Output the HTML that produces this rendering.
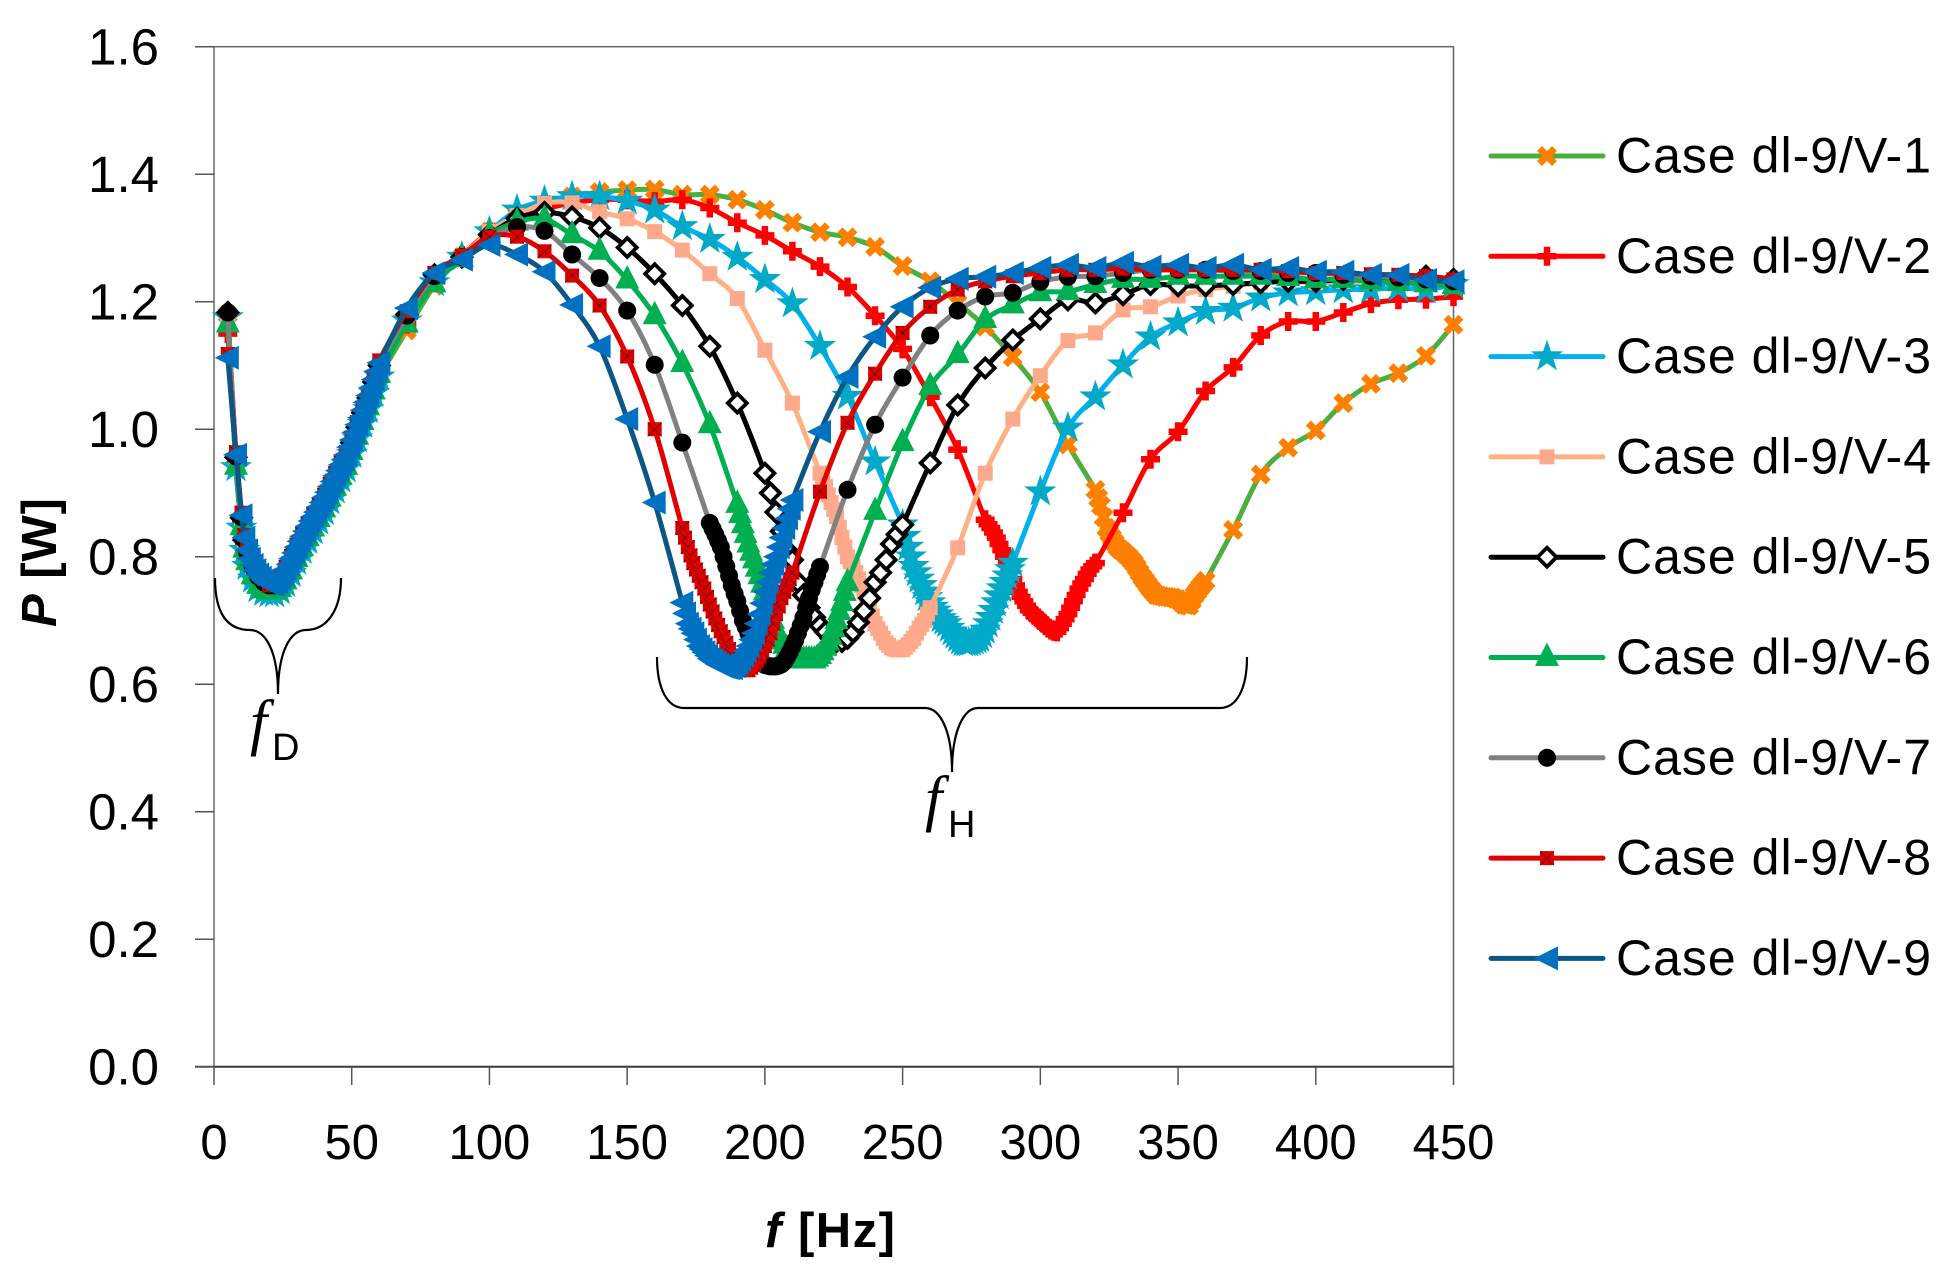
<!DOCTYPE html>
<html lang="en">
<head>
<meta charset="utf-8">
<title>Power versus frequency, Case dl-9</title>
<style>
html,body{margin:0;padding:0;background:#fff;}
svg{display:block;}
text{font-family:"Liberation Sans",sans-serif;fill:#000;}
</style>
</head>
<body>
<svg id="chart" xmlns="http://www.w3.org/2000/svg" width="1954" height="1274" viewBox="0 0 1954 1274">
  <rect x="0" y="0" width="1954" height="1274" fill="#fff"/>
  <g id="axes"></g>
  <g id="series"></g>
  <path d="M215,578 C215,610 225,630 250,630 C265,630 278,650 278,694 C278,650 291,630 306,630 C327,630 341,610 341,578" fill="none" stroke="#000" stroke-width="2.2"/>
  <path d="M657,657 C657,690 668,708 684,708 L925,708 C940,708 952,730 952,772 C952,730 964,708 978,708 L1220,708 C1236,708 1247,690 1247,657" fill="none" stroke="#000" stroke-width="2.2"/>
  <text x="250" y="743" font-size="62" style="font-family:'Liberation Serif',serif;font-style:italic">f<tspan x="272" y="760" font-size="38" style="font-family:'Liberation Sans',sans-serif;font-style:normal">D</tspan></text>
  <text x="925" y="819" font-size="62" style="font-family:'Liberation Serif',serif;font-style:italic">f<tspan x="948" y="837" font-size="38" style="font-family:'Liberation Sans',sans-serif;font-style:normal">H</tspan></text>
  <text x="765" y="1247" font-size="49" font-weight="bold" textLength="130"><tspan font-style="italic">f</tspan> [Hz]</text>
  <text transform="translate(56,627) rotate(-90)" x="0" y="0" font-size="49" font-weight="bold" textLength="129"><tspan font-style="italic">P</tspan> [W]</text>
  <g id="legend"></g>
</svg>
<script>
const xTickLabels = [0,50,100,150,200,250,300,350,400,450];
const yTickLabels = ['0.0','0.2','0.4','0.6','0.8','1.0','1.2','1.4','1.6'];
const seriesNames = ['Case dl-9/V-1','Case dl-9/V-2','Case dl-9/V-3','Case dl-9/V-4','Case dl-9/V-5','Case dl-9/V-6','Case dl-9/V-7','Case dl-9/V-8','Case dl-9/V-9'];

const freqV1 = [5,8,10,11,12,14,16,18,20,22,24,26,28,30,32,34,36,38,40,42,44,46,48,50,52,54,56,58,60,70,80,90,100,110,120,130,140,150,160,170,180,190,200,210,220,230,240,250,260,270,280,290,300,310,320,321,322,323,324,325,326,327,328,329,330,331,332,333,334,335,336,337,338,339,340,341,342,343,344,345,346,347,348,349,350,351,352,353,354,355,356,357,358,359,360,370,380,390,400,410,420,430,440,450];
const powerV1 = [1.18,.94,.85,.815,.79,.768,.753,.746,.742,.742,.748,.76,.776,.795,.812,.828,.843,.858,.873,.89,.907,.924,.94,.963,.987,1.01,1.033,1.058,1.082,1.155,1.225,1.27,1.31,1.335,1.352,1.365,1.372,1.375,1.376,1.368,1.368,1.36,1.344,1.324,1.309,1.301,1.286,1.256,1.232,1.198,1.161,1.113,1.058,.976,.905,.892,.88,.862,.845,.837,.83,.822,.815,.811,.808,.804,.8,.795,.79,.783,.775,.768,.762,.756,.75,.745,.74,.739,.738,.737,.737,.736,.736,.734,.733,.729,.725,.724,.723,.731,.74,.746,.752,.757,.762,.842,.929,.971,.998,1.041,1.071,1.088,1.115,1.164];

const freqV2 = [5,8,10,11,12,14,16,18,20,22,24,26,28,30,32,34,36,38,40,42,44,46,48,50,52,54,56,58,60,70,80,90,100,110,120,130,140,150,160,170,180,190,200,210,220,230,240,250,260,270,280,281,282,283,284,285,286,287,288,289,290,291,292,293,294,295,296,297,298,299,300,301,302,303,304,305,306,307,308,309,310,311,312,313,314,315,316,317,318,319,320,330,340,350,360,370,380,390,400,410,420,430,440,450];
const powerV2 = [1.15,.945,.855,.82,.798,.775,.76,.752,.748,.748,.755,.768,.784,.803,.82,.836,.851,.866,.881,.898,.915,.932,.948,.971,.995,1.018,1.041,1.066,1.092,1.165,1.232,1.272,1.31,1.33,1.345,1.355,1.36,1.36,1.357,1.36,1.347,1.324,1.304,1.279,1.255,1.223,1.178,1.126,1.051,.968,.858,.851,.845,.838,.83,.82,.81,.8,.79,.778,.765,.755,.745,.737,.73,.723,.716,.712,.708,.704,.7,.696,.692,.688,.685,.683,.682,.688,.695,.702,.71,.72,.73,.74,.75,.758,.765,.773,.78,.785,.79,.869,.953,.996,1.06,1.097,1.147,1.169,1.169,1.183,1.197,1.203,1.204,1.208];

const freqV3 = [5,8,10,11,12,14,16,18,20,22,24,26,28,30,32,34,36,38,40,42,44,46,48,50,52,54,56,58,60,70,80,90,100,110,120,130,140,150,160,170,180,190,200,210,220,230,240,250,251,252,253,254,255,256,257,258,259,260,261,262,263,264,265,266,267,268,269,270,271,272,273,274,275,276,277,278,279,280,281,282,283,284,285,286,287,288,289,290,300,310,320,330,340,350,360,370,380,390,400,410,420,430,440,450];
const powerV3 = [1.175,.94,.845,.81,.785,.765,.75,.744,.742,.742,.747,.758,.774,.793,.81,.826,.841,.856,.871,.888,.905,.922,.938,.961,.985,1.008,1.031,1.056,1.082,1.17,1.23,1.27,1.31,1.344,1.358,1.365,1.365,1.358,1.344,1.318,1.298,1.27,1.235,1.197,1.13,1.052,.949,.85,.832,.815,.8,.785,.775,.765,.755,.745,.736,.728,.721,.715,.709,.703,.699,.695,.688,.682,.677,.672,.668,.665,.665,.665,.666,.668,.67,.672,.678,.685,.695,.705,.716,.728,.739,.75,.76,.77,.78,.79,.902,1.002,1.051,1.101,1.145,1.167,1.185,1.19,1.206,1.214,1.216,1.219,1.219,1.222,1.219,1.227];

const freqV4 = [5,8,10,11,12,14,16,18,20,22,24,26,28,30,32,34,36,38,40,42,44,46,48,50,52,54,56,58,60,70,80,90,100,110,120,130,140,150,160,170,180,190,200,210,220,221,222,223,224,225,226,227,228,229,230,231,232,233,234,235,236,237,238,239,240,241,242,243,244,245,246,247,248,249,250,251,252,253,254,255,256,257,258,259,260,270,280,290,300,310,320,330,340,350,360,370,380,390,400,410,420,430,440,450];
const powerV4 = [1.18,.945,.85,.815,.795,.772,.757,.75,.747,.747,.752,.765,.781,.8,.817,.833,.848,.863,.878,.895,.912,.929,.945,.968,.992,1.015,1.038,1.063,1.089,1.165,1.23,1.27,1.31,1.335,1.354,1.355,1.341,1.33,1.31,1.281,1.244,1.205,1.124,1.041,.931,.92,.91,.897,.885,.874,.863,.846,.83,.815,.8,.792,.785,.775,.765,.755,.745,.732,.72,.707,.695,.687,.68,.672,.665,.661,.657,.655,.654,.654,.654,.658,.662,.667,.672,.68,.688,.694,.7,.71,.72,.814,.931,1.016,1.084,1.139,1.151,1.187,1.192,1.209,1.219,1.224,1.23,1.232,1.23,1.232,1.23,1.232,1.228,1.23];

const freqV5 = [5,8,10,11,12,14,16,18,20,22,24,26,28,30,32,34,36,38,40,42,44,46,48,50,52,54,56,58,60,70,80,90,100,110,120,130,140,150,160,170,180,190,200,202,204,206,208,210,212,214,216,218,220,222,224,226,228,230,232,234,236,238,240,242,244,246,248,250,260,270,280,290,300,310,320,330,340,350,360,370,380,390,400,410,420,430,440,450];
const powerV5 = [1.183,.956,.861,.826,.806,.783,.768,.76,.755,.755,.762,.776,.793,.811,.828,.844,.859,.874,.889,.906,.923,.94,.956,.979,1.003,1.026,1.049,1.074,1.1,1.18,1.242,1.27,1.305,1.331,1.34,1.333,1.316,1.285,1.244,1.194,1.13,1.041,.931,.9,.87,.84,.81,.795,.76,.74,.72,.705,.692,.682,.672,.667,.667,.672,.682,.697,.715,.735,.76,.775,.795,.82,.835,.85,.947,1.038,1.096,1.14,1.173,1.203,1.198,1.211,1.227,1.225,1.225,1.227,1.23,1.232,1.232,1.235,1.235,1.235,1.24,1.235];

const freqV6 = [5,8,10,11,12,14,16,18,20,22,24,26,28,30,32,34,36,38,40,42,44,46,48,50,52,54,56,58,60,70,80,90,100,110,120,130,140,150,160,170,180,190,191,192,193,194,195,196,197,198,199,200,201,202,203,204,205,206,207,208,209,210,211,212,213,214,215,216,217,218,219,220,221,222,223,224,225,226,227,228,229,230,240,250,260,270,280,290,300,310,320,330,340,350,360,370,380,390,400,410,420,430,440,450];
const powerV6 = [1.165,.942,.847,.812,.792,.77,.755,.748,.746,.746,.75,.762,.778,.797,.814,.83,.845,.86,.875,.892,.909,.926,.942,.965,.989,1.012,1.035,1.06,1.086,1.165,1.228,1.268,1.305,1.325,1.33,1.305,1.279,1.234,1.178,1.103,1.007,.882,.866,.85,.835,.82,.807,.795,.782,.77,.757,.745,.73,.715,.7,.686,.677,.668,.661,.655,.65,.645,.642,.64,.639,.638,.638,.638,.638,.638,.641,.645,.651,.658,.666,.675,.687,.7,.714,.728,.744,.759,.871,.979,1.067,1.117,1.172,1.195,1.214,1.216,1.227,1.235,1.235,1.24,1.24,1.24,1.24,1.238,1.235,1.235,1.232,1.23,1.228,1.225];

const freqV7 = [5,8,10,11,12,14,16,18,20,22,24,26,28,30,32,34,36,38,40,42,44,46,48,50,52,54,56,58,60,70,80,90,100,110,120,130,140,150,160,170,180,181,182,183,184,185,186,187,188,189,190,191,192,193,194,195,196,197,198,199,200,201,202,203,204,205,206,207,208,209,210,211,212,213,214,215,216,217,218,219,220,230,240,250,260,270,280,290,300,310,320,330,340,350,360,370,380,390,400,410,420,430,440,450];
const powerV7 = [1.183,.957,.862,.827,.807,.784,.769,.76,.755,.755,.763,.778,.794,.812,.829,.845,.86,.875,.89,.907,.924,.941,.957,.98,1.004,1.027,1.05,1.075,1.101,1.178,1.24,1.27,1.3,1.317,1.311,1.274,1.237,1.186,1.101,.979,.853,.844,.835,.825,.815,.8,.785,.77,.755,.742,.73,.715,.7,.69,.68,.67,.66,.65,.64,.634,.63,.629,.628,.628,.628,.629,.631,.635,.642,.65,.659,.669,.68,.692,.705,.72,.735,.748,.76,.772,.784,.905,1.007,1.081,1.147,1.186,1.208,1.214,1.231,1.239,1.24,1.245,1.25,1.25,1.25,1.248,1.248,1.245,1.245,1.242,1.24,1.238,1.235,1.232];

const freqV8 = [5,8,10,11,12,14,16,18,20,22,24,26,28,30,32,34,36,38,40,42,44,46,48,50,52,54,56,58,60,70,80,90,100,110,120,130,140,150,160,170,171,172,173,174,175,176,177,178,179,180,181,182,183,184,185,186,187,188,189,190,191,192,193,194,195,196,197,198,199,200,201,202,203,204,205,206,207,208,209,210,220,230,240,250,260,270,280,290,300,310,320,330,340,350,360,370,380,390,400,410,420,430,440,450];
const powerV8 = [1.118,.964,.869,.834,.814,.79,.775,.765,.755,.755,.768,.784,.801,.819,.836,.852,.867,.882,.897,.914,.931,.948,.964,.987,1.011,1.034,1.057,1.082,1.108,1.185,1.245,1.272,1.302,1.302,1.279,1.241,1.194,1.114,1.0,.845,.83,.815,.802,.79,.78,.77,.76,.75,.737,.725,.714,.703,.693,.683,.674,.665,.655,.645,.636,.63,.626,.623,.622,.622,.626,.63,.636,.642,.651,.66,.67,.68,.695,.71,.722,.735,.745,.755,.765,.775,.902,1.01,1.087,1.151,1.192,1.219,1.232,1.24,1.245,1.25,1.25,1.252,1.25,1.25,1.25,1.25,1.25,1.248,1.245,1.245,1.243,1.242,1.24,1.235];

const freqV9 = [5,8,10,11,12,13,14,15,16,17,18,19,20,21,22,23,24,25,26,27,28,29,30,31,32,33,34,35,36,37,38,39,40,41,42,43,44,45,46,47,48,49,50,51,52,53,54,55,56,57,58,59,60,70,80,90,100,110,120,130,140,150,160,170,171,172,173,174,175,176,177,178,179,180,181,182,183,184,185,186,187,188,189,190,191,192,193,194,195,196,197,198,199,200,201,202,203,204,205,206,207,208,209,210,220,230,240,250,260,270,280,290,300,310,320,330,340,350,360,370,380,390,400,410,420,430,440,450];
const powerV9 = [1.112,.96,.865,.83,.81,.797,.787,.779,.772,.767,.763,.759,.757,.756,.757,.76,.765,.772,.78,.788,.797,.806,.815,.824,.832,.84,.848,.856,.863,.87,.878,.885,.893,.901,.91,.918,.927,.935,.944,.952,.96,.972,.983,.995,1.007,1.018,1.03,1.042,1.053,1.065,1.078,1.091,1.104,1.19,1.245,1.266,1.289,1.274,1.247,1.195,1.13,1.016,.885,.728,.711,.695,.687,.68,.67,.66,.655,.65,.645,.64,.637,.634,.631,.629,.627,.626,.625,.625,.628,.632,.638,.645,.652,.66,.67,.68,.695,.71,.727,.745,.76,.775,.788,.8,.815,.83,.845,.86,.875,.889,.996,1.082,1.145,1.192,1.222,1.236,1.239,1.245,1.253,1.258,1.253,1.261,1.255,1.258,1.253,1.258,1.25,1.253,1.247,1.247,1.242,1.242,1.234,1.232];

const freqs = [freqV1,freqV2,freqV3,freqV4,freqV5,freqV6,freqV7,freqV8,freqV9];
const powers = [powerV1,powerV2,powerV3,powerV4,powerV5,powerV6,powerV7,powerV8,powerV9];
const lineColors = ['#4cae3c','#ff0000','#00b0f0','#ffb085','#000000','#00b050','#808080','#e00000','#0b5685'];
const markerKinds = ['x','plus','star','square','diamond','triup','circle','squarex','trileft'];

const NS = 'http://www.w3.org/2000/svg';
const plotLeft = 214, plotRight = 1453.5, plotTop = 46.7, plotBottom = 1066.7;
const xMax = 450, yMax = 1.6;
function xScale(v){ return plotLeft + (plotRight - plotLeft) * v / xMax; }
function yScale(v){ return plotBottom - (plotBottom - plotTop) * v / yMax; }

function svgEl(tag, parent){
  const el = document.createElementNS(NS, tag);
  parent.appendChild(el);
  return el;
}
function smoothPath(xs, ys){
  let d = 'M' + xs[0].toFixed(1) + ',' + ys[0].toFixed(1);
  const k = 0.16;
  for(let i = 0; i < xs.length - 1; i++){
    const p0 = Math.max(i - 1, 0), p3 = Math.min(i + 2, xs.length - 1);
    const c1x = xs[i] + (xs[i+1] - xs[p0]) * k, c1y = ys[i] + (ys[i+1] - ys[p0]) * k;
    const c2x = xs[i+1] - (xs[p3] - xs[i]) * k, c2y = ys[i+1] - (ys[p3] - ys[i]) * k;
    d += 'C' + c1x.toFixed(1) + ',' + c1y.toFixed(1) + ' ' + c2x.toFixed(1) + ',' + c2y.toFixed(1) + ' ' + xs[i+1].toFixed(1) + ',' + ys[i+1].toFixed(1);
  }
  return d;
}
function starPoints(R, r){
  const pts = [];
  for(let i = 0; i < 10; i++){
    const a = -Math.PI / 2 + i * Math.PI / 5, q = i % 2 ? r : R;
    pts.push((q * Math.cos(a)).toFixed(2) + ',' + (q * Math.sin(a)).toFixed(2));
  }
  return pts.join(' ');
}
const starShape = starPoints(17, 6.6);

function drawMarker(kind, cx, cy, parent){
  const g = svgEl('g', parent);
  g.setAttribute('transform', 'translate(' + cx.toFixed(1) + ',' + cy.toFixed(1) + ')');
  let s;
  if(kind === 'x'){
    s = svgEl('path', g);
    s.setAttribute('d', 'M-7.5,-7.5L7.5,7.5M-7.5,7.5L7.5,-7.5');
    s.setAttribute('stroke', '#ff8000');
    s.setAttribute('stroke-width', '7');
    s.setAttribute('fill', 'none');
  } else if(kind === 'plus'){
    s = svgEl('path', g);
    s.setAttribute('d', 'M-9.5,0L9.5,0M0,-9.5L0,9.5');
    s.setAttribute('stroke', '#ff0000');
    s.setAttribute('stroke-width', '6.5');
    s.setAttribute('fill', 'none');
  } else if(kind === 'star'){
    s = svgEl('polygon', g);
    s.setAttribute('points', starShape);
    s.setAttribute('fill', '#00a9c8');
  } else if(kind === 'square'){
    s = svgEl('rect', g);
    s.setAttribute('x', '-7.5');
    s.setAttribute('y', '-7.5');
    s.setAttribute('width', '15');
    s.setAttribute('height', '15');
    s.setAttribute('fill', '#ffa98c');
  } else if(kind === 'diamond'){
    s = svgEl('polygon', g);
    s.setAttribute('points', '0,-9.5 9.5,0 0,9.5 -9.5,0');
    s.setAttribute('fill', '#fff');
    s.setAttribute('stroke', '#000');
    s.setAttribute('stroke-width', '3.8');
  } else if(kind === 'triup'){
    s = svgEl('polygon', g);
    s.setAttribute('points', '0,-15 12,8.5 -12,8.5');
    s.setAttribute('fill', '#00b050');
  } else if(kind === 'circle'){
    s = svgEl('circle', g);
    s.setAttribute('r', '9');
    s.setAttribute('fill', '#000');
  } else if(kind === 'squarex'){
    s = svgEl('rect', g);
    s.setAttribute('x', '-7');
    s.setAttribute('y', '-7');
    s.setAttribute('width', '14');
    s.setAttribute('height', '14');
    s.setAttribute('fill', '#dd0000');
    const cross = svgEl('path', g);
    cross.setAttribute('d', 'M-7,-7L7,7M-7,7L7,-7');
    cross.setAttribute('stroke', '#500');
    cross.setAttribute('stroke-width', '0.7');
  } else {
    s = svgEl('polygon', g);
    s.setAttribute('points', '-13,0 11,-12 11,12');
    s.setAttribute('fill', '#0070c0');
  }
  return g;
}

const axes = document.getElementById('axes');
const frame = svgEl('rect', axes);


frame.setAttribute('x', plotLeft);
frame.setAttribute('y', plotTop);
frame.setAttribute('width', plotRight - plotLeft);
frame.setAttribute('height', plotBottom - plotTop);
frame.setAttribute('fill', 'none');
frame.setAttribute('stroke', '#666');
frame.setAttribute('stroke-width', '1.5');

const xBase = svgEl('line', axes);


xBase.setAttribute('x1', 195);
xBase.setAttribute('x2', plotRight);
xBase.setAttribute('y1', plotBottom);
xBase.setAttribute('y2', plotBottom);
xBase.setAttribute('stroke', '#3a3a3a');
xBase.setAttribute('stroke-width', '2');

yTickLabels.forEach(function(label){
  const v = parseFloat(label), y = yScale(v);
  const t = svgEl('line', axes);
  
  
  t.setAttribute('x1', 195);
  t.setAttribute('x2', plotLeft);
  t.setAttribute('y1', y);
  t.setAttribute('y2', y);
  t.setAttribute('stroke', '#555');
  t.setAttribute('stroke-width', '1.5');
  const txt = svgEl('text', axes);
  
  
  txt.setAttribute('x', 159);
  txt.setAttribute('y', y + 18);
  txt.setAttribute('text-anchor', 'end');
  txt.setAttribute('font-size', '51');
  txt.textContent = label;
});
xTickLabels.forEach(function(v){
  const x = xScale(v);
  const t = svgEl('line', axes);
  
  
  t.setAttribute('x1', x);
  t.setAttribute('x2', x);
  t.setAttribute('y1', plotBottom);
  t.setAttribute('y2', 1085);
  t.setAttribute('stroke', '#555');
  t.setAttribute('stroke-width', '1.5');
  const txt = svgEl('text', axes);
  
  
  txt.setAttribute('x', x);
  txt.setAttribute('y', 1159);
  txt.setAttribute('text-anchor', 'middle');
  txt.setAttribute('font-size', '49');
  txt.textContent = String(v);
});

const seriesLayer = document.getElementById('series');
seriesNames.forEach(function(name, i){
  const g = svgEl('g', seriesLayer);
  
  
  const xs = freqs[i].map(xScale), ys = powers[i].map(yScale);
  const line = svgEl('path', g);
  
  
  line.setAttribute('d', smoothPath(xs, ys));
  line.setAttribute('fill', 'none');
  line.setAttribute('stroke', lineColors[i]);
  line.setAttribute('stroke-width', '5');
  line.setAttribute('stroke-linejoin', 'round');
  xs.forEach(function(x, j){
    const m = drawMarker(markerKinds[i], x, ys[j], g);
    
    
  });
});

const legend = document.getElementById('legend');
seriesNames.forEach(function(name, i){
  const y = 156 + i * 100.3;
  const row = svgEl('g', legend);
  
  
  const ln = svgEl('line', row);
  
  
  ln.setAttribute('x1', 1491);
  ln.setAttribute('x2', 1603);
  ln.setAttribute('y1', y);
  ln.setAttribute('y2', y);
  ln.setAttribute('stroke', lineColors[i]);
  ln.setAttribute('stroke-width', '5');
  ln.setAttribute('stroke-linecap', 'round');
  const mk = drawMarker(markerKinds[i], 1547, y, row);
  
  
  const tx = svgEl('text', row);
  
  
  tx.setAttribute('x', 1616);
  tx.setAttribute('y', y + 16.5);
  tx.setAttribute('font-size', '50');
  tx.setAttribute('textLength', '315');
  tx.textContent = name;
});
</script>
</body>
</html>
